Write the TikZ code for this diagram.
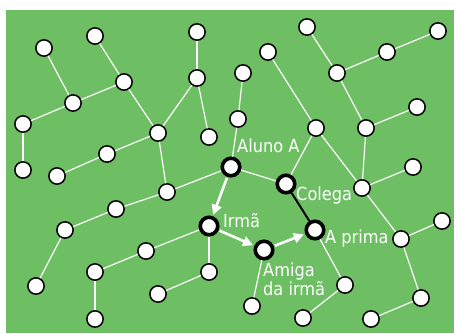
\documentclass[tikz,border=0pt]{standalone}
\usepackage{fontspec}
\setmainfont{DejaVu Sans Condensed}
\usetikzlibrary{arrows.meta}
\definecolor{meadow}{RGB}{110,190,100}

\begin{document}
\begin{tikzpicture}[
	x=1pt, y=-1pt,
	dot/.style={
		draw, circle, fill=white, line width=1.5pt,
		minimum size=16.3pt, inner sep=0pt
	},
	hub/.style={
		draw, circle, fill=white, line width=3.6pt,
		minimum size=17.5pt, inner sep=0pt
	},
	link/.style={white, line width=1.2pt},
	tie/.style={black, line width=2pt},
	arr/.style={white, line width=2.6pt, -{Triangle[length=10pt, width=10pt]},
		shorten >=1.5pt, shorten <=1pt},
	tag/.style={text=white, font=\fontsize{18}{19}\selectfont,
		inner sep=0pt, align=left},
	]
	\useasboundingbox (0,0) rectangle (454,333);
	\fill[meadow] (6,10) rectangle (454,333);
	
	% left part of the net
	\node[dot] (a1)  at ( 44, 48) {};
	\node[dot] (a2)  at ( 95, 36) {};
	\node[dot] (a3)  at (197, 32) {};
	\node[dot] (a4)  at (124, 82) {};
	\node[dot] (a5)  at (197, 78) {};
	\node[dot] (a6)  at ( 73,103) {};
	\node[dot] (a7)  at ( 23,124) {};
	\node[dot] (a8)  at (158,133) {};
	\node[dot] (a9)  at (209,137) {};
	\node[dot] (a10) at (107,154) {};
	\node[dot] (a11) at ( 23,170) {};
	\node[dot] (a12) at ( 57,176) {};
	\node[dot] (a13) at (167,192) {};
	\node[dot] (a14) at (116,209) {};
	\node[dot] (a15) at ( 65,230) {};
	\node[dot] (a16) at ( 36,286) {};
	\node[dot] (a17) at (146,251) {};
	\node[dot] (a18) at ( 95,272) {};
	\node[dot] (a19) at ( 95,319) {};
	\node[dot] (a20) at (209,272) {};
	\node[dot] (a21) at (158,294) {};
	
	% right part of the net
	\node[dot] (b1)  at (307, 27) {};
	\node[dot] (b2)  at (268, 52) {};
	\node[dot] (b3)  at (387, 52) {};
	\node[dot] (b4)  at (438, 31) {};
	\node[dot] (b5)  at (243, 73) {};
	\node[dot] (b6)  at (337, 73) {};
	\node[dot] (b7)  at (238,119) {};
	\node[dot] (b8)  at (316,128) {};
	\node[dot] (b9)  at (366,128) {};
	\node[dot] (b10) at (417,107) {};
	\node[dot] (b11) at (413,167) {};
	\node[dot] (b12) at (362,188) {};
	\node[dot] (b13) at (442,221) {};
	\node[dot] (b14) at (401,239) {};
	\node[dot] (b15) at (345,285) {};
	\node[dot] (b16) at (421,298) {};
	\node[dot] (b17) at (252,306) {};
	\node[dot] (b18) at (303,318) {};
	\node[dot] (b19) at (371,319) {};
	
	% the people that matter
	\node[hub] (aluno)  at (231,167) {};
	\node[hub] (colega) at (286,184) {};
	\node[hub] (irma)   at (209,226) {};
	\node[hub] (prima)  at (315,230) {};
	\node[hub] (amiga)  at (264,250) {};
	
	\node[tag, anchor=base west]  (alunotag)  at (237,152) {Aluno A};
	\node[tag, anchor=base west]  (colegatag) at (296,200) {Colega};
	\node[tag, anchor=base west]  (irmatag)   at (223,227) {Irmã};
	\node[tag, anchor=base west]  (primatag)  at (325,243) {A prima};
	\node[tag, anchor=north west] (amigatag)  at (263,263) {Amiga\\da irmã};
	
	\draw[link] (a1)  -- (a6);
	\draw[link] (a2)  -- (a4);
	\draw[link] (a4)  -- (a6);
	\draw[link] (a6)  -- (a7);
	\draw[link] (a7)  -- (a11);
	\draw[link] (a4)  -- (a8);
	\draw[link] (a8)  -- (a5);
	\draw[link] (a5)  -- (a3);
	\draw[link] (a5)  -- (a9);
	\draw[link] (a8)  -- (a10);
	\draw[link] (a10) -- (a12);
	\draw[link] (a8)  -- (a13);
	\draw[link] (a13) -- (aluno);
	\draw[link] (a13) -- (a14);
	\draw[link] (a14) -- (a15);
	\draw[link] (a15) -- (a16);
	\draw[link] (irma) -- (a17);
	\draw[link] (a17) -- (a18);
	\draw[link] (a18) -- (a19);
	\draw[link] (irma) -- (a20);
	\draw[link] (a20) -- (a21);
	
	\draw[link] (b1)  -- (b6);
	\draw[link] (b6)  -- (b3);
	\draw[link] (b3)  -- (b4);
	\draw[link] (b6)  -- (b9);
	\draw[link] (b9)  -- (b10);
	\draw[link] (b9)  -- (b12);
	\draw[link] (b2)  -- (b8);
	\draw[link] (b8)  -- (colega);
	\draw[link] (b8)  -- (b12);
	\draw[link] (b5)  -- (b7);
	\draw[link] (b7)  -- (aluno);
	\draw[link] (b11) -- (b12);
	\draw[link] (aluno) -- (colega);
	\draw[link] (b12) -- (b14);
	\draw[link] (b14) -- (b13);
	\draw[link] (b14) -- (b16);
	\draw[link] (b16) -- (b19);
	\draw[link] (prima) -- (b15);
	\draw[link] (b15) -- (b18);
	\draw[link] (amiga) -- (b17);
	
	\draw[tie] (colega) -- (prima);
	
	\draw[arr] (aluno) -- (irma);
	\draw[arr] (irma)  -- (amiga);
	\draw[arr] (amiga) -- (prima);
	
\end{tikzpicture}
\end{document}
